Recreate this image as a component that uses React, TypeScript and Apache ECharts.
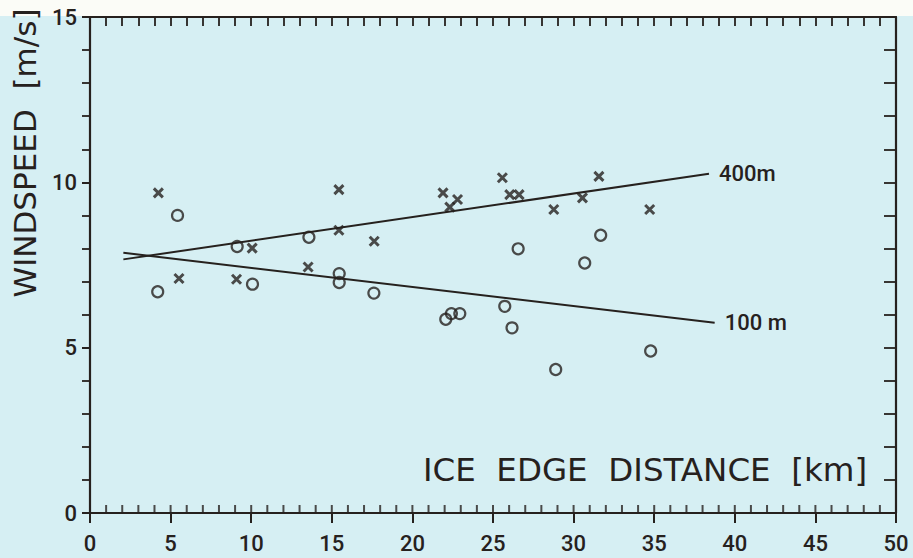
import React, { useEffect, useRef } from 'react';
import * as echarts from 'echarts';

// ---- data ----
const crossX = [4.24, 5.52, 9.09, 10.06, 13.53, 15.44, 15.44, 17.63, 21.9, 22.32, 22.8, 25.58, 26.04, 26.62, 28.77, 30.55, 31.57, 34.72];
const crossY = [9.68, 7.09, 7.07, 8.01, 7.44, 9.78, 8.55, 8.22, 9.68, 9.25, 9.48, 10.14, 9.63, 9.63, 9.18, 9.53, 10.18, 9.18];

const circleX = [4.2, 5.43, 9.13, 10.08, 13.58, 15.46, 15.46, 17.61, 22.07, 22.42, 22.94, 25.73, 26.18, 26.56, 28.89, 30.69, 31.68, 34.78];
const circleY = [6.69, 9.0, 8.06, 6.92, 8.34, 7.24, 6.97, 6.65, 5.86, 6.03, 6.03, 6.25, 5.6, 7.99, 4.34, 7.56, 8.4, 4.9];

const line400X = [2.07, 38.4];
const line400Y = [7.67, 10.26];
const line100X = [2.07, 38.75];
const line100Y = [7.87, 5.75];

// km positions of the small inward ticks along the bottom axis
const bottomMinorTicks = [
  0, 1, 2, 3, 4, 5, 6, 7, 8, 9, 10, 11, 12, 13, 14, 15, 16, 17, 18, 19, 20, 21, 22, 23, 24, 25,
  26, 27, 28, 29, 30, 31, 32, 33, 34, 35, 36, 37, 38, 39, 40, 41, 42, 43, 44, 45, 46, 47, 48, 49, 50,
];

const lineLabels = ['400m', '100 m'];
const xTitle = 'ICE  EDGE  DISTANCE  [km]';
const yTitle = 'WINDSPEED  [m/s]';

const INK = '#26211e';
const FONT = 'Roboto, "DejaVu Sans", sans-serif';
const TITLE_FONT = '"DejaVu Sans", Roboto, sans-serif';

const zip = (xs: number[], ys: number[]) => xs.map((x, i) => [x, ys[i]]);

export default function App() {
  const ref = useRef<HTMLDivElement>(null);
  useEffect(() => {
    if (!ref.current) return;
    const chart = echarts.init(ref.current, undefined, { renderer: 'svg' });
    const tickLine = { color: INK, width: 2 };
    const minorLine = { color: INK, width: 1.8 };
    const axisLine = { show: true, onZero: false, lineStyle: { color: INK, width: 2.2 } };
    const labelStyle = { color: INK, fontSize: 22, fontFamily: FONT, fontWeight: 500 };
    chart.setOption({
      animation: false,
      backgroundColor: '#d6eff3',
      grid: { left: 90, right: 17, top: 17, bottom: 45 },
      xAxis: [
        {
          type: 'value', min: 0, max: 50, interval: 5, position: 'bottom',
          axisLine,
          axisTick: { show: true, inside: false, length: 10, lineStyle: tickLine },
          axisLabel: { ...labelStyle, margin: 19 },
          splitLine: { show: false },
        },
        {
          type: 'value', min: 0, max: 50, interval: 1, position: 'top',
          axisLine,
          axisTick: { show: true, inside: true, length: 9, lineStyle: minorLine },
          axisLabel: { show: false }, splitLine: { show: false },
        },
      ],
      yAxis: [
        {
          type: 'value', min: 0, max: 15, interval: 5, position: 'left',
          axisLine,
          axisTick: { show: true, inside: false, length: 8, lineStyle: tickLine },
          minorTick: { show: true, splitNumber: 5, length: 8, lineStyle: minorLine },
          axisLabel: { ...labelStyle, margin: 13 },
          splitLine: { show: false }, minorSplitLine: { show: false },
        },
        {
          type: 'value', min: 0, max: 15, interval: 1, position: 'right',
          axisLine,
          axisTick: { show: true, inside: true, length: 12, lineStyle: minorLine },
          axisLabel: { show: false }, splitLine: { show: false },
        },
      ],
      graphic: [
        { type: 'rect', z: -100, silent: true, shape: { x: 0, y: 0, width: 913, height: 16 }, style: { fill: '#fbfcf7' } },
        {
          type: 'text', x: 25, y: 153, rotation: Math.PI / 2,
          style: { text: yTitle, fill: INK, fontSize: 31, fontFamily: TITLE_FONT, align: 'center', verticalAlign: 'middle' },
        },
        {
          type: 'text', x: 645, y: 470,
          style: { text: xTitle, fill: INK, fontSize: 32.5, fontFamily: TITLE_FONT, align: 'center', verticalAlign: 'middle' },
        },
      ],
      series: [
        {
          // small inward ticks on the bottom axis, placed through the x scale
          type: 'scatter', xAxisIndex: 0, yAxisIndex: 0, silent: true, clip: false,
          data: bottomMinorTicks.map((v) => [v, 0]),
          symbol: 'rect', symbolSize: [2, 8], symbolOffset: [0, -4],
          itemStyle: { color: INK, borderWidth: 0 },
          z: 5,
        },
        {
          type: 'line', xAxisIndex: 0, yAxisIndex: 0, data: zip(line400X, line400Y), symbol: 'none',
          lineStyle: { color: INK, width: 2 },
          endLabel: { show: true, formatter: lineLabels[0], ...labelStyle, distance: 10 },
        },
        {
          type: 'line', xAxisIndex: 0, yAxisIndex: 0, data: zip(line100X, line100Y), symbol: 'none',
          lineStyle: { color: INK, width: 2 },
          endLabel: { show: true, formatter: lineLabels[1], ...labelStyle, distance: 10 },
        },
        {
          type: 'scatter', xAxisIndex: 0, yAxisIndex: 0, data: zip(circleX, circleY), symbol: 'circle', symbolSize: 11,
          itemStyle: { color: 'transparent', borderColor: INK, borderWidth: 2.2 },
        },
        {
          type: 'scatter', xAxisIndex: 0, yAxisIndex: 0, data: zip(crossX, crossY), symbol: 'path://M0,0 L10,10 M10,0 L0,10', symbolSize: 9,
          itemStyle: { color: 'none', borderColor: INK, borderWidth: 3 },
        },
      ],
    });
    return () => chart.dispose();
  }, []);
  return <div ref={ref} style={{ position: 'fixed', left: 0, top: 0, width: 913, height: 558 }} />;
}
